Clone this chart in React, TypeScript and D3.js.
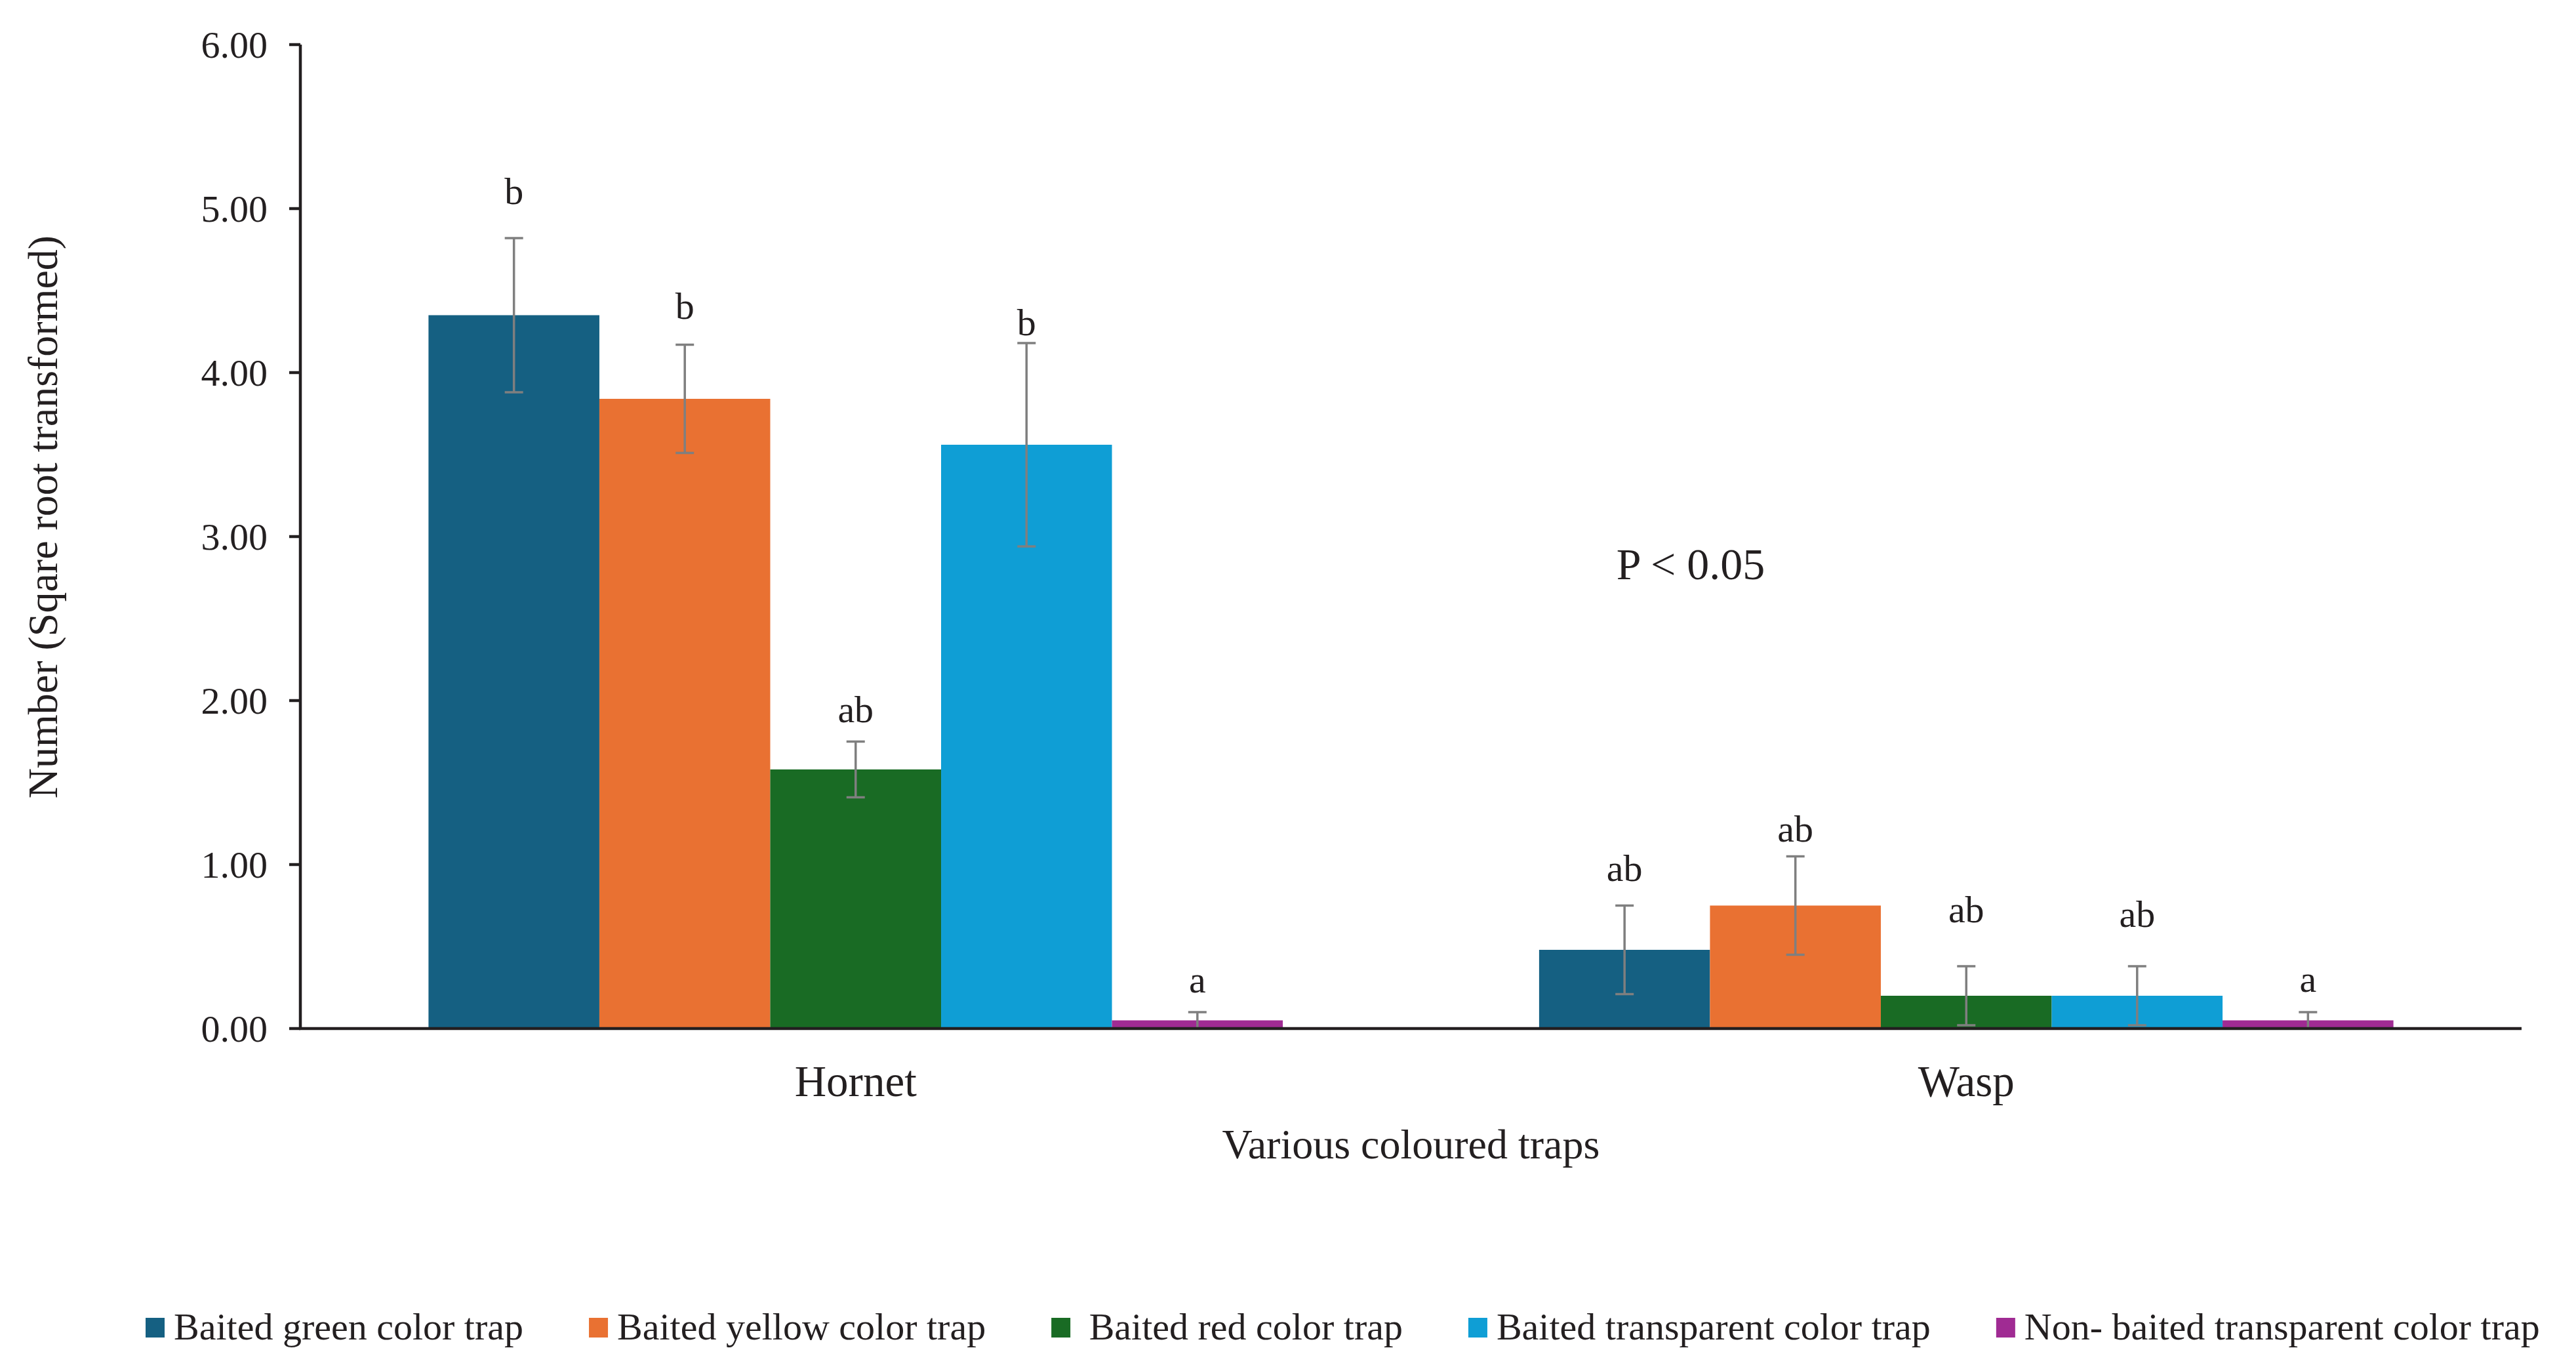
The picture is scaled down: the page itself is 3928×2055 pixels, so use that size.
import React, { useEffect } from "react";
import * as d3 from "d3";

const categories = ["Hornet", "Wasp"];
const seriesNames = [
  "Baited green color trap",
  "Baited yellow color trap",
  " Baited red color trap",
  "Baited transparent color trap",
  "Non- baited transparent color trap",
];
const seriesColors = ["#156082", "#E97132", "#196B24", "#0F9ED5", "#A02B93"];
// values per series: [Hornet, Wasp]
const greenValues = [4.35, 0.48];
const yellowValues = [3.84, 0.75];
const redValues = [1.58, 0.2];
const transparentValues = [3.56, 0.2];
const nonBaitedValues = [0.05, 0.05];
// error (±) per series
const greenErr = [0.47, 0.27];
const yellowErr = [0.33, 0.3];
const redErr = [0.17, 0.18];
const transparentErr = [0.62, 0.18];
const nonBaitedErr = [0.05, 0.05];
// significance letters and their baseline values
const greenLetters = ["b", "ab"];
const yellowLetters = ["b", "ab"];
const redLetters = ["ab", "ab"];
const transparentLetters = ["b", "ab"];
const nonBaitedLetters = ["a", "a"];
const greenLetterY = [5.03, 0.9];
const yellowLetterY = [4.33, 1.14];
const redLetterY = [1.87, 0.65];
const transparentLetterY = [4.23, 0.62];
const nonBaitedLetterY = [0.22, 0.225];
const yTicks = [0, 1, 2, 3, 4, 5, 6];

const values = [greenValues, yellowValues, redValues, transparentValues, nonBaitedValues];
const errs = [greenErr, yellowErr, redErr, transparentErr, nonBaitedErr];
const letters = [greenLetters, yellowLetters, redLetters, transparentLetters, nonBaitedLetters];
const letterY = [greenLetterY, yellowLetterY, redLetterY, transparentLetterY, nonBaitedLetterY];

const W = 3928;
const H = 2055;
const FONT = '"Liberation Serif", "Times New Roman", serif';
const TEXT = "#231F20";

function measure(text: string, size: number) {
  const c = document.createElement("canvas");
  const ctx = c.getContext("2d")!;
  ctx.font = `${size}px ${FONT}`;
  return ctx.measureText(text).width;
}

export default function App() {
  useEffect(() => {
    document.body.style.margin = "0";
    document.body.style.overflow = "hidden";
  }, []);

  const left = 458, right = 3845, top = 68, bottom = 1568;
  const x0 = d3.scaleBand<string>().domain(categories).range([left, right]).paddingInner(0).paddingOuter(0);
  const x1 = d3
    .scaleBand<number>()
    .domain(d3.range(seriesNames.length))
    .range([0, x0.bandwidth()])
    .paddingInner(0)
    .paddingOuter(0.75);
  const y = d3.scaleLinear().domain([0, 6]).range([bottom, top]);
  const fmt = d3.format(".2f");
  const bw = x1.bandwidth();

  // legend layout
  const legendItems: { x: number; label: string; color: string }[] = [];
  let lx = 222;
  seriesNames.forEach((s, i) => {
    legendItems.push({ x: lx, label: s, color: seriesColors[i] });
    lx += 43 + measure(s, 58) + 100;
  });

  return (
    <svg width={W} height={H} style={{ display: "block", background: "#fff" }} fontFamily={FONT}>
      {/* bars */}
      {categories.map((c, ci) =>
        seriesNames.map((s, si) => (
          <rect
            key={`b-${ci}-${si}`}
            x={x0(c)! + x1(si)!}
            y={y(values[si][ci])}
            width={bw}
            height={y(0) - y(values[si][ci])}
            fill={seriesColors[si]}
          />
        ))
      )}
      {/* error bars */}
      {categories.map((c, ci) =>
        seriesNames.map((s, si) => {
          const cx = x0(c)! + x1(si)! + bw / 2;
          const v = values[si][ci];
          const e = errs[si][ci];
          const y1 = y(v + e);
          const y2 = y(Math.max(0, v - e));
          return (
            <g key={`e-${ci}-${si}`} stroke="#7F7F7F" strokeWidth={3.5}>
              <line x1={cx} x2={cx} y1={y1} y2={y2} />
              <line x1={cx - 14} x2={cx + 14} y1={y1} y2={y1} />
              <line x1={cx - 14} x2={cx + 14} y1={y2} y2={y2} />
            </g>
          );
        })
      )}
      {/* letters */}
      {categories.map((c, ci) =>
        seriesNames.map((s, si) => (
          <text
            key={`l-${ci}-${si}`}
            x={x0(c)! + x1(si)! + bw / 2}
            y={y(letterY[si][ci])}
            textAnchor="middle"
            fontSize={58}
            fill={TEXT}
          >
            {letters[si][ci]}
          </text>
        ))
      )}
      {/* axes */}
      <line x1={left} x2={left} y1={top} y2={bottom} stroke={TEXT} strokeWidth={4.5} />
      <line x1={left - 2} x2={right} y1={bottom} y2={bottom} stroke={TEXT} strokeWidth={4.5} />
      {yTicks.map((t) => (
        <g key={`t-${t}`}>
          <line x1={left - 17} x2={left} y1={y(t)} y2={y(t)} stroke={TEXT} strokeWidth={4.5} />
          <text x={408} y={y(t)} dy="0.35em" textAnchor="end" fontSize={58} fill={TEXT}>
            {fmt(t)}
          </text>
        </g>
      ))}
      {categories.map((c) => (
        <text key={`c-${c}`} x={x0(c)! + x0.bandwidth() / 2} y={1671} textAnchor="middle" fontSize={67} fill={TEXT}>
          {c}
        </text>
      ))}
      <text x={(left + right) / 2} y={1766} textAnchor="middle" fontSize={64} fill={TEXT}>
        Various coloured traps
      </text>
      <text
        transform={`translate(87, 788) rotate(-90)`}
        textAnchor="middle"
        fontSize={64}
        fill={TEXT}
      >
        Number (Sqare root transformed)
      </text>
      <text x={2578} y={883} textAnchor="middle" fontSize={68} fill={TEXT}>
        P &lt; 0.05
      </text>
      {/* legend */}
      {legendItems.map((it, i) => (
        <g key={`lg-${i}`}>
          <rect x={it.x} y={2009} width={29} height={30} fill={it.color} />
          <text x={it.x + 43} y={2042} fontSize={58} fill={TEXT} style={{ whiteSpace: "pre" }}>
            {it.label}
          </text>
        </g>
      ))}
    </svg>
  );
}
